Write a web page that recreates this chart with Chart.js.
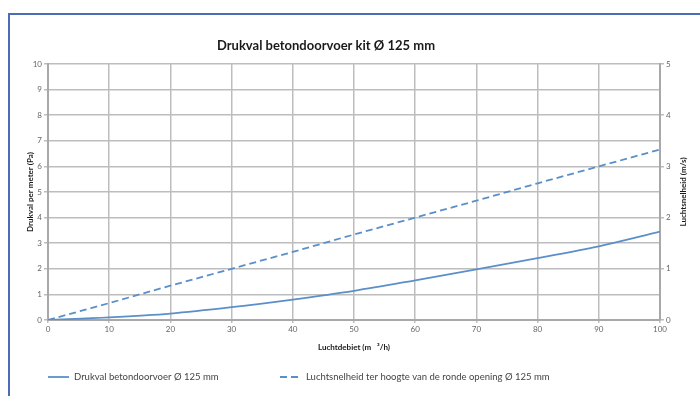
<!DOCTYPE html>
<html>
<head>
<meta charset="utf-8">
<script src="https://cdn.jsdelivr.net/npm/chart.js@4.4.1/dist/chart.umd.min.js"></script>
<style>
  html, body { margin: 0; padding: 0; background: #fff; overflow: hidden; }
  .kader {
    position: absolute; left: 8px; top: 13px; width: 720px; height: 420px;
    border-left: 2px solid #4a6db5; border-top: 2px solid #4a6db5;
  }
  #grafiek { position: absolute; left: 0; top: 0; }
</style>
</head>
<body>
<div class="kader"></div>
<canvas id="grafiek" width="700" height="396"></canvas>
<script>
// luchtdebiet (m3/h)
const debiet = [0, 10, 20, 30, 40, 50, 60, 70, 80, 90, 100];
// drukval per meter (Pa)
const drukval = [0, 0.1, 0.25, 0.5, 0.8, 1.14, 1.55, 1.98, 2.42, 2.88, 3.45];
// luchtsnelheid (m/s)
const snelheid = [0, 0.33, 0.67, 1.0, 1.33, 1.67, 2.0, 2.33, 2.67, 3.0, 3.33];

const titel = 'Drukval betondoorvoer kit Ø 125 mm';
const labelDruk = 'Drukval betondoorvoer Ø 125 mm';
const labelSnelheid = 'Luchtsnelheid ter hoogte van de ronde opening Ø 125 mm';
const titelRechts = 'Luchtsnelheid (m/s)';

const blauw = '#5b8fc9';
const rasterKleur = '#bdbdbd';
const tekstKleur = '#666';
const lettertype = 'Lato';

const data = {
    datasets: [{
        label: labelDruk,
        data: debiet.map((x, i) => ({ x: x, y: drukval[i] })),
        borderColor: blauw,
        borderWidth: 1.8,
        pointRadius: 0,
        cubicInterpolationMode: 'monotone',
        yAxisID: 'y'
    }, {
        label: labelSnelheid,
        data: debiet.map((x, i) => ({ x: x, y: snelheid[i] })),
        borderColor: blauw,
        borderWidth: 1.8,
        borderDash: [7, 4],
        pointRadius: 0,
        yAxisID: 'y2'
    }]
};

// titel, rechter astitel en legenda zelf tekenen, zodat ze op de juiste plek staan
const titelEnLegenda = {
    id: 'titelEnLegenda',
    afterDraw(chart) {
        const { ctx, chartArea } = chart;
        ctx.save();
        ctx.fillStyle = '#1a1a1a';
        ctx.font = 'bold 13px ' + lettertype;
        ctx.textAlign = 'center';
        ctx.textBaseline = 'middle';
        ctx.fillText(titel, 326, 46);

        // rechter astitel leest van onder naar boven, net als links
        ctx.save();
        ctx.translate(683, (chartArea.top + chartArea.bottom) / 2);
        ctx.rotate(-Math.PI / 2);
        ctx.font = 'bold 8px ' + lettertype;
        ctx.fillText(titelRechts, 0, 0);
        ctx.restore();

        const yLeg = 377;
        const startX = [48, 280];
        chart.data.datasets.forEach((ds, i) => {
            const x = startX[i];
            ctx.strokeStyle = ds.borderColor;
            ctx.lineWidth = ds.borderWidth;
            ctx.setLineDash(ds.borderDash || []);
            ctx.beginPath();
            ctx.moveTo(x, yLeg);
            ctx.lineTo(x + 21, yLeg);
            ctx.stroke();
            ctx.setLineDash([]);
            ctx.fillStyle = '#444';
            ctx.font = '9.5px ' + lettertype;
            ctx.textAlign = 'left';
            ctx.fillText(ds.label, x + 26, yLeg);
        });
        ctx.restore();
    }
};

const options = {
    responsive: false,
    animation: false,
    devicePixelRatio: 1,
    layout: { padding: { top: 64, bottom: 44, left: 0, right: 0 } },
    plugins: {
        legend: { display: false },
        title: { display: false },
        tooltip: { enabled: false }
    },
    scales: {
        x: {
            type: 'linear',
            min: 0,
            max: 100,
            afterFit(s) { s.height = 32; },
            ticks: { stepSize: 10, color: tekstKleur, font: { family: lettertype, size: 8 }, padding: 2, maxRotation: 0 },
            grid: { color: rasterKleur, lineWidth: 1.5, tickLength: 3 },
            border: { color: '#a8a8a8', width: 2 },
            title: { display: true, text: 'Luchtdebiet (m   ³/h)', color: '#1a1a1a', font: { family: lettertype, size: 8, weight: 'bold' }, padding: { top: 2, bottom: 0 } }
        },
        y: {
            position: 'left',
            min: 0,
            max: 10,
            afterFit(s) { s.width = 48; },
            ticks: { stepSize: 1, color: tekstKleur, font: { family: lettertype, size: 8 }, padding: 2 },
            grid: { color: rasterKleur, lineWidth: 1.5, tickLength: 4 },
            border: { color: '#a8a8a8', width: 2 },
            title: { display: true, text: 'Drukval per meter (Pa)', color: '#1a1a1a', font: { family: lettertype, size: 8, weight: 'bold' }, padding: { top: 26, bottom: 0 } }
        },
        y2: {
            position: 'right',
            min: 0,
            max: 5,
            afterFit(s) { s.width = 40; },
            ticks: { stepSize: 1, color: tekstKleur, font: { family: lettertype, size: 8 }, padding: 2 },
            grid: { drawOnChartArea: false, color: rasterKleur, lineWidth: 1.5, tickLength: 4 },
            border: { color: '#a8a8a8', width: 2 },
            title: { display: false }
        }
    }
};

const grafiek = new Chart(document.getElementById('grafiek'), {
    type: 'line',
    data: data,
    options: options,
    plugins: [titelEnLegenda]
});
</script>
</body>
</html>
